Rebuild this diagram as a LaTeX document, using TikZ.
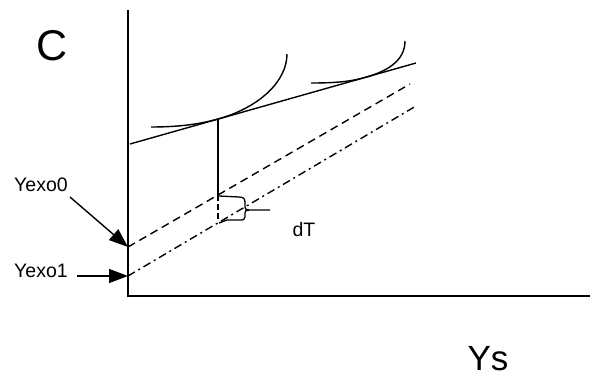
\documentclass[tikz,border=0pt]{standalone}
\usepackage{fontspec}
\setmainfont{Liberation Sans}
\usepackage{tikz}
\usetikzlibrary{positioning, arrows.meta}

\begin{document}
\begin{tikzpicture}[
    x=1pt, y=-1pt,
    axis/.style={line width=1.6pt},
    curve/.style={line width=1.4pt},
    exo/.style={line width=1.4pt, dash pattern=on 8pt off 5pt},
    exob/.style={line width=1.4pt, dash pattern=on 8pt off 4pt on 2pt off 4pt},
    lbl/.style={inner sep=0pt, font=\fontsize{19.5}{21}\selectfont},
    big/.style={inner sep=0pt},
    arr/.style={-{Triangle[length=19pt, width=14pt]}, line width=1.4pt}
]
\useasboundingbox (0,0) rectangle (596,380);

% axes
\coordinate (top) at (128,10);
\coordinate (orig) at (128,296);
\coordinate (right) at (590,296);
\draw[axis] (top) -- (orig) -- (right);

% budget line and indifference curves
\coordinate (b0) at (130,144);
\coordinate (b1) at (416,63);
\draw[curve] (b0) -- (b1);
\coordinate (tan) at (218,119);
\draw[curve] (151,127) .. controls (180,127) and (200,124) .. (tan)
    .. controls (258,108) and (287,82) .. (287,54);
\draw[curve] (311,83) .. controls (335,83) and (350,81.7) .. (365,77.5)
    .. controls (385,71.8) and (405,62) .. (405,41);

% exogenous lines
\coordinate (y0) at (128,247);
\coordinate (y0e) at (410,84);
\coordinate (y1) at (128,276);
\coordinate (y1e) at (416,106);
\draw[exo] (y0) -- (y0e);
\draw[exob] (y1) -- (y1e);

% drop from tangency
\coordinate (p0) at (218,195);
\coordinate (p1) at (218,222);
\draw[curve] (tan) -- (p0);
\draw[curve, dash pattern=on 6pt off 3pt] (p0) -- (p1);

% brace
\coordinate (tip) at (270,210);
\draw[line width=1.3pt] (219,196) -- (239,197) .. controls (244,197) and (245,199) .. (245,203)
    -- (245,207) .. controls (245,209) and (246,210) .. (249,210) -- (tip);
\draw[line width=1.3pt] (249,210) .. controls (246,210) and (245,211) .. (245,213)
    -- (245,217) .. controls (245,220) and (243,220) .. (239,220) -- (227,220) -- (219,223);

% labels
\node[big, font=\fontsize{43}{45}\selectfont] (C) at (52,46) {C};
\node[big, font=\fontsize{35}{37}\selectfont] (Ys) at (488,359) {Ys};
\node[lbl] (dT) at (304,230) {dT};
\node[lbl] (yexo0) at (41,185) {Yexo0};
\node[lbl] (yexo1) at (41,271) {Yexo1};

\coordinate (a0) at (70,197);
\coordinate (a1) at (77,276);
\draw[arr] (a0) -- (y0);
\draw[arr] (a1) -- (y1);
\end{tikzpicture}
\end{document}
